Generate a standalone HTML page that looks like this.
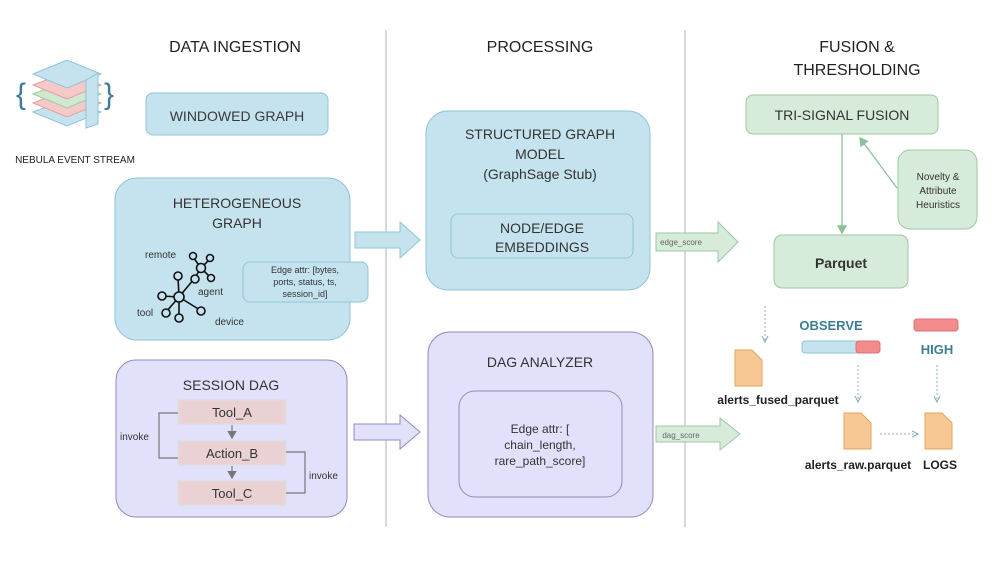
<!DOCTYPE html><html><head><meta charset="utf-8"><style>html,body{margin:0;padding:0;background:#fff}svg{display:block}text{font-family:"Liberation Sans",sans-serif}</style></head><body>
<svg width="997" height="561" viewBox="0 0 997 561" xmlns="http://www.w3.org/2000/svg">
<defs>
<marker id="ag" markerWidth="8" markerHeight="8" refX="6" refY="4" orient="auto"><path d="M0,0 L7,4 L0,8 z" fill="#8dbf98"/></marker>
<marker id="agr" markerWidth="8" markerHeight="8" refX="6" refY="4" orient="auto"><path d="M0,0 L7,4 L0,8 z" fill="#777"/></marker>
<marker id="ab" markerWidth="8" markerHeight="8" refX="6" refY="4" orient="auto"><path d="M0,1 L6,4 L0,7" fill="none" stroke="#7fa8b8" stroke-width="1"/></marker>
</defs>
<line x1="386" y1="30" x2="386" y2="527" stroke="#ccc" stroke-width="1.5"/>
<line x1="685" y1="30" x2="685" y2="527" stroke="#ccc" stroke-width="1.5"/>
<g font-size="16" fill="#222" text-anchor="middle">
<text x="235" y="52">DATA INGESTION</text>
<text x="540" y="52">PROCESSING</text>
<text x="857" y="52">FUSION &amp;</text>
<text x="857" y="75">THRESHOLDING</text>
</g>
<!-- logo -->
<g stroke-width="1">
<path d="M33,112 L67,99 L101,112 L67,126 z" fill="#c5e3ee" stroke="#8fc4d6"/>
<path d="M33,103 L67,90 L101,103 L67,117 z" fill="#f6c9c9" stroke="#e3a0a0"/>
<path d="M33,94 L67,81 L101,94 L67,108 z" fill="#cfe8cf" stroke="#9fca9f"/>
<path d="M33,85 L67,72 L101,85 L67,99 z" fill="#f6c9c9" stroke="#e3a0a0"/>
<path d="M33,74 L67,60 L101,74 L67,88 z" fill="#c5e3ee" stroke="#8fc4d6"/>
<path d="M86,80 L98,73 L98,124 L86,128 z" fill="#c5e3ee" stroke="#8fc4d6"/>
</g>
<text x="16" y="104" font-size="30" fill="#3a7f95">{</text>
<text x="104" y="104" font-size="30" fill="#3a7f95">}</text>
<text x="75" y="163" font-size="10" fill="#222" text-anchor="middle">NEBULA EVENT STREAM</text>
<g font-weight="bold" fill="#3a3a3a">
<rect x="146" y="93" width="182" height="42" rx="7" fill="#c5e3ee" stroke="#8fc4d6"/>
<text x="237" y="121" font-size="14" text-anchor="middle" font-weight="normal">WINDOWED GRAPH</text>
</g>
<!-- hetero -->
<rect x="115" y="178" width="235" height="162" rx="22" fill="#c5e3ee" stroke="#8fc4d6"/>
<text x="237" y="208" font-size="14" fill="#333" text-anchor="middle">HETEROGENEOUS</text>
<text x="237" y="228" font-size="14" fill="#333" text-anchor="middle">GRAPH</text>
<g stroke="#111" stroke-width="1.6" fill="#c5e3ee">
<line x1="179" y1="297" x2="178" y2="277"/><line x1="179" y1="297" x2="162" y2="296"/><line x1="179" y1="297" x2="166" y2="312"/><line x1="179" y1="297" x2="179" y2="317"/><line x1="179" y1="297" x2="200" y2="310"/><line x1="179" y1="297" x2="194" y2="279"/><line x1="194" y1="279" x2="201" y2="268"/>
<line x1="201" y1="268" x2="193" y2="257"/><line x1="201" y1="268" x2="210" y2="259"/><line x1="201" y1="268" x2="211" y2="278"/>
<circle cx="179" cy="297" r="5"/><circle cx="178" cy="276" r="4"/><circle cx="162" cy="296" r="4"/><circle cx="166" cy="313" r="4"/><circle cx="179" cy="318" r="4"/><circle cx="201" cy="311" r="4"/><circle cx="195" cy="279" r="4"/>
<circle cx="201" cy="268" r="4.5"/><circle cx="193" cy="256" r="3.5"/><circle cx="210" cy="258" r="3.5"/><circle cx="211" cy="278" r="3.5"/>
</g>
<g font-size="10" fill="#333"><text x="145" y="258">remote</text><text x="198" y="295">agent</text><text x="137" y="316">tool</text><text x="215" y="325">device</text></g>
<rect x="243" y="262" width="125" height="40" rx="7" fill="#c5e3ee" stroke="#8fc4d6"/>
<g font-size="9" fill="#333" text-anchor="middle"><text x="305" y="273">Edge attr: [bytes,</text><text x="305" y="285">ports, status, ts,</text><text x="305" y="297">session_id]</text></g>
<path d="M355,232 L400,232 L400,222 L420,240 L400,258 L400,248 L355,248 z" fill="#c5e3ee" stroke="#8fc4d6"/>
<rect x="426" y="111" width="224" height="179" rx="22" fill="#c5e3ee" stroke="#8fc4d6"/>
<g font-size="14" fill="#333" text-anchor="middle"><text x="540" y="139">STRUCTURED GRAPH</text><text x="540" y="159">MODEL</text><text x="540" y="179">(GraphSage Stub)</text>
<text x="542" y="233">NODE/EDGE</text><text x="542" y="252">EMBEDDINGS</text></g>
<rect x="451" y="214" width="182" height="44" rx="7" fill="none" stroke="#8fc4d6"/>
<path d="M656,233 L718,233 L718,222 L738,242 L718,262 L718,251 L656,251 z" fill="#d6ebd9" stroke="#9cc8a2"/>
<text x="681" y="245" font-size="8" fill="#666" text-anchor="middle">edge_score</text>
<rect x="746" y="95" width="192" height="39" rx="7" fill="#d6ebd9" stroke="#9cc8a2"/>
<text x="842" y="120" font-size="14" fill="#333" text-anchor="middle">TRI-SIGNAL FUSION</text>
<rect x="898" y="150" width="79" height="79" rx="12" fill="#d6ebd9" stroke="#9cc8a2"/>
<g font-size="10" fill="#333" text-anchor="middle"><text x="938" y="180">Novelty &amp;</text><text x="938" y="194">Attribute</text><text x="938" y="208">Heuristics</text></g>
<rect x="774" y="235" width="134" height="53" rx="8" fill="#d6ebd9" stroke="#9cc8a2"/>
<text x="841" y="268" font-size="14" font-weight="bold" fill="#333" text-anchor="middle">Parquet</text>
<line x1="842" y1="134" x2="842" y2="233" stroke="#8dbf98" stroke-width="1.3" marker-end="url(#ag)"/>
<line x1="897" y1="188" x2="860" y2="138" stroke="#8dbf98" stroke-width="1.3" marker-end="url(#ag)"/>
<rect x="116" y="360" width="231" height="157" rx="20" fill="#e1e1fb" stroke="#9a88b8"/>
<text x="231" y="390" font-size="14" fill="#333" text-anchor="middle">SESSION DAG</text>
<g fill="#ead2d4" stroke="#ddd"><rect x="178" y="400" width="108" height="24"/><rect x="178" y="441" width="108" height="24"/><rect x="178" y="481" width="108" height="24"/></g>
<g font-size="13" fill="#333" text-anchor="middle"><text x="232" y="417">Tool_A</text><text x="232" y="458">Action_B</text><text x="232" y="498">Tool_C</text></g>
<g stroke="#777" stroke-width="1.2" fill="none">
<line x1="232" y1="425" x2="232" y2="438" marker-end="url(#agr)"/><line x1="232" y1="466" x2="232" y2="478" marker-end="url(#agr)"/>
<path d="M178,413 L159,413 L159,458 L178,458"/><path d="M286,452 L305,452 L305,493 L286,493"/></g>
<g font-size="10" fill="#333"><text x="120" y="440">invoke</text><text x="309" y="479">invoke</text></g>
<path d="M354,424 L400,424 L400,415 L420,432 L400,449 L400,440 L354,440 z" fill="#e1e1fb" stroke="#9a88b8"/>
<rect x="428" y="332" width="225" height="185" rx="22" fill="#e1e1fb" stroke="#9a88b8"/>
<text x="540" y="367" font-size="14" fill="#333" text-anchor="middle">DAG ANALYZER</text>
<rect x="459" y="391" width="163" height="106" rx="16" fill="none" stroke="#9a88b8"/>
<g font-size="12" fill="#333" text-anchor="middle"><text x="540" y="433">Edge attr: [</text><text x="540" y="449">chain_length,</text><text x="540" y="465">rare_path_score]</text></g>
<path d="M656,426 L720,426 L720,418 L740,434 L720,450 L720,442 L656,442 z" fill="#d6ebd9" stroke="#9cc8a2"/>
<text x="681" y="438" font-size="8" fill="#666" text-anchor="middle">dag_score</text>
<g stroke="#8fb3c0" stroke-width="1" stroke-dasharray="2,2" fill="none">
<line x1="765" y1="306" x2="765" y2="342" marker-end="url(#ab)"/>
<line x1="858" y1="365" x2="858" y2="402" marker-end="url(#ab)"/>
<line x1="937" y1="365" x2="937" y2="402" marker-end="url(#ab)"/>
<line x1="880" y1="434" x2="918" y2="434" marker-end="url(#ab)"/>
</g>
<g fill="#f7c894" stroke="#e0a560" stroke-width="1">
<path d="M735,350 L752,350 L762,360 L762,386 L735,386 z"/>
<path d="M844,413 L861,413 L871,423 L871,449 L844,449 z"/>
<path d="M925,413 L942,413 L952,423 L952,449 L925,449 z"/>
</g>
<text x="831" y="330" font-size="13" font-weight="bold" fill="#3a7f95" text-anchor="middle">OBSERVE</text>
<text x="937" y="354" font-size="13" font-weight="bold" fill="#3a7f95" text-anchor="middle">HIGH</text>
<rect x="802" y="341" width="78" height="12" rx="3" fill="#c5e3ee" stroke="#8fc4d6"/>
<rect x="856" y="341" width="24" height="12" rx="3" fill="#f28b8b" stroke="#e07070"/>
<rect x="914" y="319" width="44" height="12" rx="3" fill="#f28b8b" stroke="#e07070"/>
<g font-size="12" font-weight="bold" fill="#222" text-anchor="middle"><text x="778" y="404">alerts_fused_parquet</text><text x="858" y="469">alerts_raw.parquet</text><text x="940" y="469">LOGS</text></g>
</svg></body></html>
